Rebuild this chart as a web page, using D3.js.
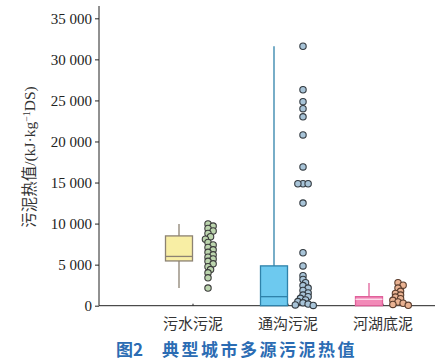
<!DOCTYPE html>
<html>
<head>
<meta charset="utf-8">
<script src="https://cdn.jsdelivr.net/npm/d3@7"></script>
<style>
  body { margin: 0; background: #fff; }
  svg { display: block; }
</style>
</head>
<body>
<div id="chart"></div>
<script>
// categories and box statistics
const categories = ["污水污泥", "通沟污泥", "河湖底泥"];
const whiskerLow = [2150, 0, 0];
const q1 = [5450, 0, 0];
const median = [6000, 1100, 780];
const q3 = [8500, 4850, 1100];
const whiskerHigh = [9950, 31600, 2750];

// individual samples
const pointsSewage = [9950, 9700, 9400, 9100, 8800, 8400, 8100, 7700, 7400, 7100, 6800,
  6500, 6200, 5900, 5700, 5400, 5100, 4750, 4400, 4000, 3400, 2150];
const pointsDrain = [31600, 26300, 24850, 24000, 23000, 20800, 16900, 14850, 14850, 14850,
  12500, 6450, 4850, 3650, 3200, 2800, 2450, 2150, 1850, 1550, 1300, 1100, 900, 700, 500,
  350, 200, 100, 30];
const pointsRiver = [2800, 2500, 2150, 1750, 1500, 1300, 1050, 850, 650, 450, 300, 150, 40];

const yTicks = [0, 5000, 10000, 15000, 20000, 25000, 30000, 35000];

const boxFill = ["#f8eea4", "#6dc9ef", "#f28ab8"];
const boxStroke = ["#8c8272", "#2f82aa", "#e0609a"];
const medianStroke = ["#8c8272", "#2f82aa", "#fbe0ec"];
const dotFill = ["#bcd5ae", "#a8c4d8", "#e9b292"];
const dotStroke = ["#3b3b3b", "#333a40", "#5a3c2c"];

const width = 441, height = 364;
const x0 = 99, axisY = 305.7;

const svg = d3.select("#chart").append("svg")
  .attr("width", width).attr("height", height);

const y = d3.scaleLinear().domain([0, 36500]).range([axisY, 6]);
const x = d3.scalePoint().domain(categories).range([193, 383]);

const serif = "'Liberation Serif', 'Times New Roman', serif";
const cjk = "'Noto Sans CJK SC', sans-serif";

// y axis
const yAxis = svg.append("g")
  .attr("transform", `translate(${x0},0)`)
  .call(d3.axisLeft(y).tickValues(yTicks).tickSize(4).tickPadding(3)
    .tickFormat(d => d3.format(",")(d).replace(",", " ")));
yAxis.select(".domain").attr("stroke", "#222").attr("d", `M0,${axisY}V6`);
yAxis.selectAll(".tick line").attr("stroke", "#222");
yAxis.selectAll(".tick text").attr("fill", "#222")
  .style("font", `15px ${serif}`);

// x axis
svg.append("line")
  .attr("x1", x0).attr("x2", 435).attr("y1", axisY).attr("y2", axisY)
  .attr("stroke", "#222");
svg.append("g").selectAll("line").data(categories).join("line")
  .attr("x1", d => x(d)).attr("x2", d => x(d))
  .attr("y1", axisY).attr("y2", axisY - 2)
  .attr("stroke", "#222");
svg.append("g").selectAll("text").data(categories).join("text")
  .attr("x", d => x(d)).attr("y", 329)
  .attr("text-anchor", "middle")
  .attr("fill", "#333")
  .style("font", `15px ${cjk}`)
  .text(d => d);

// y title
svg.append("text")
  .attr("transform", "translate(35,157) rotate(-90)")
  .attr("text-anchor", "middle")
  .attr("fill", "#333")
  .style("font", `15.5px ${serif}`)
  .call(t => {
    t.append("tspan").style("font-family", cjk).text("污泥热值");
    t.append("tspan").text("/(kJ·kg");
    t.append("tspan").attr("dy", -5).style("font-size", "10px").text("−1");
    t.append("tspan").attr("dy", 5).text("DS)");
  });

// boxes
const boxW = 27, boxOff = -14, dotOff = 15;
const boxes = svg.append("g").selectAll("g").data(categories).join("g")
  .attr("transform", d => `translate(${x(d) + boxOff},0)`);

boxes.append("line")
  .attr("y1", (d, i) => y(whiskerLow[i]))
  .attr("y2", (d, i) => y(whiskerHigh[i]))
  .attr("stroke", (d, i) => boxStroke[i]).attr("stroke-width", 1.3);
boxes.append("rect")
  .attr("x", -boxW / 2).attr("width", boxW)
  .attr("y", (d, i) => y(q3[i]))
  .attr("height", (d, i) => y(q1[i]) - y(q3[i]))
  .attr("fill", (d, i) => boxFill[i])
  .attr("stroke", (d, i) => boxStroke[i]).attr("stroke-width", 1.3);
boxes.append("line")
  .attr("x1", -boxW / 2).attr("x2", boxW / 2)
  .attr("y1", (d, i) => y(median[i])).attr("y2", (d, i) => y(median[i]))
  .attr("stroke", (d, i) => medianStroke[i]).attr("stroke-width", 1.3);

// simple beeswarm so overlapping samples spread sideways (tight, overlap allowed)
function swarm(values, r) {
  const placed = [];
  return values.map(v => {
    const py = y(v);
    let dx = 0;
    for (let k = 0; k < 20; k++) {
      const cand = k === 0 ? 0 : (k % 2 ? 1 : -1) * Math.ceil(k / 2) * r * 0.8;
      const hit = placed.some(p => Math.hypot(p.dx - cand, p.y - py) < r * 1.15);
      if (!hit) { dx = cand; break; }
    }
    const p = { dx, y: py };
    placed.push(p);
    return p;
  });
}

const allPoints = [pointsSewage, pointsDrain, pointsRiver];
const r = 3.2;
categories.forEach((c, i) => {
  svg.append("g").selectAll("circle").data(swarm(allPoints[i], r)).join("circle")
    .attr("cx", d => x(c) + dotOff + d.dx)
    .attr("cy", d => d.y)
    .attr("r", r)
    .attr("fill", dotFill[i])
    .attr("stroke", dotStroke[i])
    .attr("stroke-width", 1.1);
});

// caption
svg.append("text")
  .attr("x", 116).attr("y", 356)
  .attr("fill", "#2b6cb3")
  .style("font", `bold 17px ${cjk}`)
  .call(t => {
    t.append("tspan").text("图2");
    t.append("tspan").attr("x", 162).style("letter-spacing", "2.5px").text("典型城市多源污泥热值");
  });
</script>
</body>
</html>
